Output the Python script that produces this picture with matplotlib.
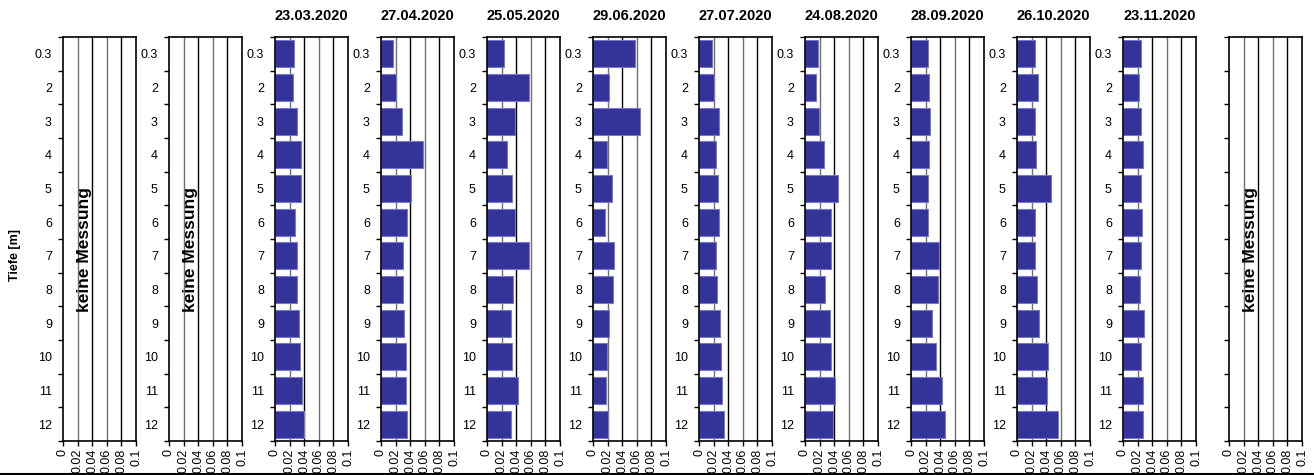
import matplotlib
matplotlib.use('Agg')
import numpy as np
from matplotlib import pyplot as plt
from matplotlib.lines import Line2D

plt.rcParams['font.family'] = ['Liberation Sans', 'DejaVu Sans']

# depth categories (top to bottom)
tiefe = ['0.3', '2', '3', '4', '5', '6', '7', '8', '9', '10', '11', '12']

# measurement dates, None = no measurement
datum = [None, None, '23.03.2020', '27.04.2020', '25.05.2020', '29.06.2020',
         '27.07.2020', '24.08.2020', '28.09.2020', '26.10.2020', '23.11.2020', None]

w_2303 = [0.026, 0.024, 0.030, 0.035, 0.035, 0.028, 0.030, 0.030, 0.033, 0.034, 0.037, 0.040]
w_2704 = [0.016, 0.021, 0.029, 0.057, 0.041, 0.035, 0.030, 0.030, 0.032, 0.034, 0.034, 0.035]
w_2505 = [0.023, 0.058, 0.038, 0.028, 0.034, 0.039, 0.057, 0.035, 0.033, 0.034, 0.043, 0.033]
w_2906 = [0.057, 0.022, 0.065, 0.019, 0.026, 0.016, 0.029, 0.027, 0.022, 0.019, 0.018, 0.021]
w_2707 = [0.018, 0.020, 0.027, 0.023, 0.026, 0.027, 0.023, 0.024, 0.029, 0.030, 0.031, 0.034]
w_2408 = [0.018, 0.015, 0.019, 0.026, 0.045, 0.036, 0.036, 0.027, 0.034, 0.036, 0.041, 0.039]
w_2809 = [0.023, 0.024, 0.026, 0.024, 0.023, 0.023, 0.039, 0.037, 0.029, 0.034, 0.042, 0.047]
w_2610 = [0.024, 0.029, 0.025, 0.026, 0.047, 0.024, 0.025, 0.028, 0.030, 0.043, 0.041, 0.056]
w_2311 = [0.025, 0.022, 0.024, 0.027, 0.024, 0.026, 0.025, 0.023, 0.029, 0.025, 0.027, 0.028]

werte = [None, None, w_2303, w_2704, w_2505, w_2906, w_2707, w_2408, w_2809, w_2610, w_2311, None]

xticks = [0, 0.02, 0.04, 0.06, 0.08, 0.1]
xlabels = ['0', '0.02', '0.04', '0.06', '0.08', '0.1']

W, H = 1314, 475
fig = plt.figure(figsize=(W / 100, H / 100), dpi=100)

y = np.arange(len(tiefe))
for i in range(12):
    left = 63 + i * 106
    ax = fig.add_axes([left / W, 1 - 441 / H, 73 / W, (441 - 37) / H])
    ax.set_xlim(0, 0.1)
    ax.set_ylim(len(tiefe) - 0.5, -0.5)

    # vertical grid lines
    for k, gx in enumerate([0.02, 0.04, 0.06, 0.08]):
        ax.axvline(gx, color='#707070' if k % 2 == 0 else 'black', linewidth=1.0, zorder=1)

    if werte[i] is not None:
        ax.barh(y, werte[i], height=0.8, color='#333399', edgecolor='#7777cc',
                linewidth=0.8, zorder=2)
        ax.set_title(datum[i], fontsize=10.5, fontweight='bold', pad=12)
    else:
        ax.text(0.03, 5.8, 'keine Messung', rotation=90, fontsize=12.5,
                fontweight='bold', ha='center', va='center')

    # tick marks on category boundaries, labels in the middle
    ax.set_yticks(np.arange(len(tiefe) + 1) - 0.5)
    ax.set_yticklabels([])
    ax.set_yticks(y, minor=True)
    if i < 11:
        ax.set_yticklabels(tiefe, minor=True, fontsize=9)
    else:
        ax.set_yticklabels([], minor=True)
    ax.tick_params(axis='y', which='major', direction='out', length=3.5, width=1)
    ax.tick_params(axis='y', which='minor', length=0, pad=8)

    ax.set_xticks(xticks)
    ax.set_xticklabels(xlabels, rotation=90, fontsize=9)
    ax.tick_params(axis='x', direction='out', length=3.5, width=1, pad=2)

    for s in ax.spines.values():
        s.set_linewidth(1.2)

fig.text(15 / W, 1 - 255 / H, 'Tiefe [m]', rotation=90, fontsize=9,
         fontweight='bold', ha='center', va='center')

# line along the bottom of the picture
fig.add_artist(Line2D([0, 1], [1 - 473.5 / H, 1 - 473.5 / H], color='black',
                      linewidth=1.5, transform=fig.transFigure))

fig.savefig('out.png', dpi=100)
